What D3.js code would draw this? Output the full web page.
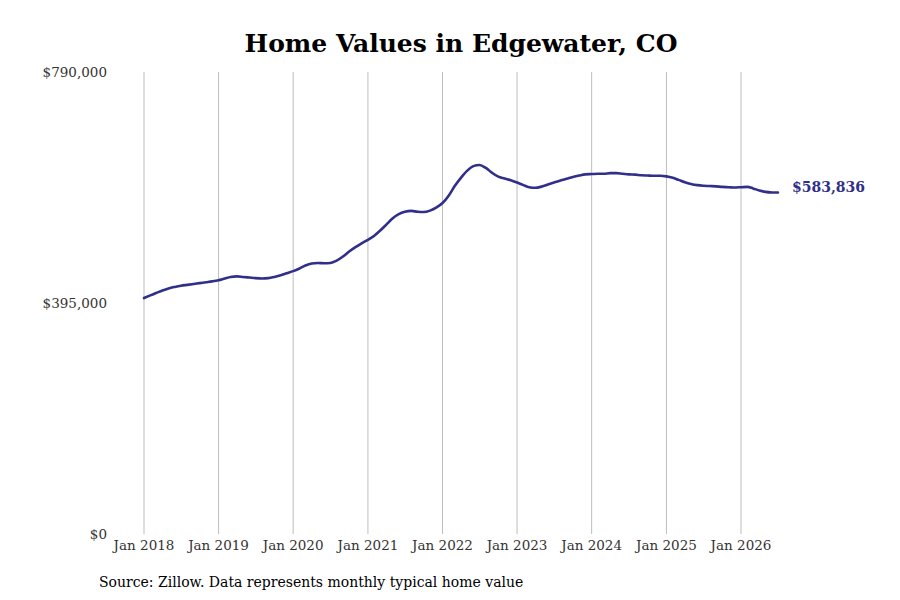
<!DOCTYPE html>
<html>
<head>
<meta charset="utf-8">
<script src="https://cdn.jsdelivr.net/npm/d3@7"></script>
<style>
  body { margin: 0; background: #fff; }
  text { font-family: "DejaVu Serif", serif; }
</style>
</head>
<body>
<script>
// monthly typical home value, Jan 2018 .. Jul 2026
const startMonth = "2018-01"
const homeValues = [
  403500, 408000, 412000, 416500, 420000, 422500, 424500, 426000, 427500, 429000, 430500, 432000,
  434000, 437000, 439500, 440500, 439500, 438500, 437500, 437000, 437500, 439500, 442500, 446000,
  449500, 454000, 459000, 462500, 463500, 463000, 463500, 467500, 474500, 483000, 490500, 497000,
  503000, 510000, 518500, 529000, 539500, 547000, 551000, 552500, 551000, 550500, 553000, 558000,
  566000, 579000, 594500, 609000, 621000, 629000, 631000, 626000, 617500, 611000, 608000, 605000,
  601000, 596500, 593000, 592000, 594000, 597500, 601000, 604500, 607500, 610500, 613000, 615000,
  615500, 616000, 616000, 617000, 617000, 616000, 615000, 614500, 613500, 613000, 612500, 612500,
  611500, 609000, 605500, 601500, 598500, 596500, 595500, 595000, 594500, 593500, 593000, 592500,
  593000, 593500, 591000, 587500, 585000, 584000, 583836
]
const yTicks = [0, 395000, 790000]
const xTickYears = [2018, 2019, 2020, 2021, 2022, 2023, 2024, 2025, 2026]

const width = 900, height = 600
const plotTop = 72, plotBottom = 534

const parseMonth = d3.timeParse("%Y-%m")
const start = parseMonth(startMonth)
const data = homeValues.map((v, i) => ({ date: d3.timeMonth.offset(start, i), value: v }))

const svg = d3.select("body").append("svg")
    .attr("width", width)
    .attr("height", height)

const x = d3.scaleTime()
    .domain([new Date(2018, 0, 1), new Date(2026, 0, 1)])
    .range([144, 741])

const y = d3.scaleLinear()
    .domain([0, 790000])
    .range([plotBottom, plotTop])

// vertical grid lines at each January
const xTicks = xTickYears.map(yr => new Date(yr, 0, 1))
svg.selectAll("line.grid")
    .data(xTicks)
    .enter()
    .append("line")
    .attr("class", "grid")
    .attr("x1", d => x(d)).attr("x2", d => x(d))
    .attr("y1", plotTop).attr("y2", plotBottom)
    .attr("stroke", "#bdbdbd")
    .attr("stroke-width", 1)

// x tick labels
svg.selectAll("text.xlab")
    .data(xTicks)
    .enter()
    .append("text")
    .attr("class", "xlab")
    .attr("x", d => x(d))
    .attr("y", 550)
    .attr("text-anchor", "middle")
    .attr("font-size", 13.5)
    .attr("fill", "#333")
    .text(d => d3.timeFormat("Jan %Y")(d))

// y tick labels
svg.selectAll("text.ylab")
    .data(yTicks)
    .enter()
    .append("text")
    .attr("class", "ylab")
    .attr("x", 107)
    .attr("y", d => y(d))
    .attr("dy", "0.35em")
    .attr("text-anchor", "end")
    .attr("font-size", 13.5)
    .attr("fill", "#333")
    .text(d => "$" + d3.format(",")(d))

// the line
const line = d3.line()
    .x(d => x(d.date))
    .y(d => y(d.value))
    .curve(d3.curveMonotoneX)

svg.append("path")
    .datum(data)
    .attr("fill", "none")
    .attr("stroke", "#302f8a")
    .attr("stroke-width", 2.6)
    .attr("stroke-linecap", "round")
    .attr("d", line)

// end label, sits a little above the line end
const last = data[data.length - 1]
svg.append("text")
    .attr("x", x(last.date) + 14)
    .attr("y", y(last.value) - 5)
    .attr("dy", "0.35em")
    .attr("font-size", 14)
    .attr("font-weight", "bold")
    .attr("fill", "#302f8a")
    .text("$" + d3.format(",")(last.value))

// title
svg.append("text")
    .attr("x", 461)
    .attr("y", 52)
    .attr("text-anchor", "middle")
    .attr("font-size", 25)
    .attr("font-weight", "bold")
    .attr("fill", "#000")
    .text("Home Values in Edgewater, CO")

// source note
svg.append("text")
    .attr("x", 99)
    .attr("y", 587)
    .attr("font-size", 14)
    .attr("fill", "#000")
    .text("Source: Zillow. Data represents monthly typical home value")
</script>
</body>
</html>
